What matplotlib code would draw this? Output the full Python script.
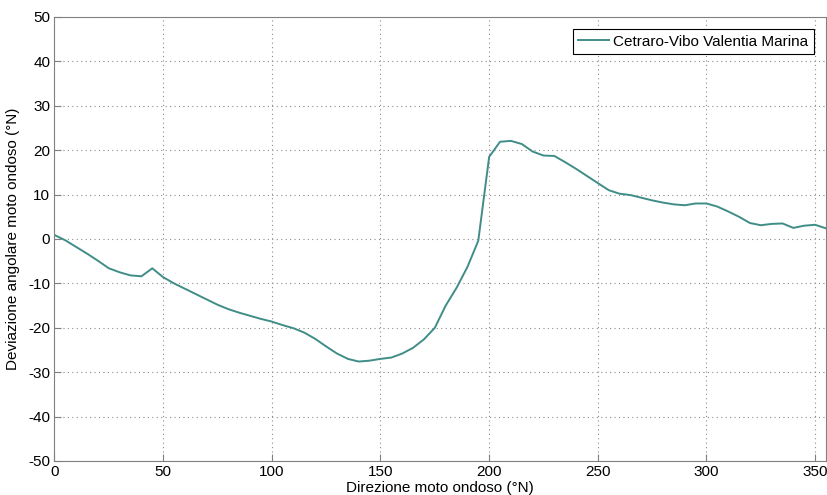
import matplotlib
matplotlib.use('Agg')
import matplotlib.pyplot as plt

plt.rcParams['font.family'] = ['Liberation Sans', 'DejaVu Sans']
plt.rcParams['axes.unicode_minus'] = False

# direzione del moto ondoso (gradi N) e deviazione angolare
direzione = [0, 5, 10, 15, 20, 25, 30, 35, 40, 45, 50, 55, 60, 65, 70, 75, 80, 85,
             90, 95, 100, 105, 110, 115, 120, 125, 130, 135, 140, 145, 150, 155,
             160, 165, 170, 175, 180, 185, 190, 195, 200, 205, 210, 215, 220, 225,
             230, 235, 240, 245, 250, 255, 260, 265, 270, 275, 280, 285, 290, 295,
             300, 305, 310, 315, 320, 325, 330, 335, 340, 345, 350, 355]
deviazione = [0.9, -0.3, -1.8, -3.3, -4.9, -6.6, -7.5, -8.2, -8.4, -6.6, -8.6, -10.0,
              -11.2, -12.4, -13.6, -14.8, -15.8, -16.6, -17.3, -18.0, -18.6, -19.4,
              -20.1, -21.1, -22.5, -24.2, -25.8, -27.0, -27.6, -27.4, -27.0, -26.7,
              -25.8, -24.5, -22.6, -20.0, -15.0, -11.0, -6.3, -0.4, 18.5, 21.9, 22.1,
              21.4, 19.7, 18.8, 18.7, 17.3, 15.8, 14.2, 12.6, 11.0, 10.2, 9.9, 9.3,
              8.7, 8.2, 7.8, 7.6, 8.0, 8.0, 7.3, 6.2, 5.0, 3.6, 3.1, 3.4, 3.5, 2.5,
              3.0, 3.2, 2.4]

fig = plt.figure(figsize=(8.28, 4.95), dpi=100)
ax = fig.add_axes([54.5 / 828, 34 / 495, (826 - 54.5) / 828, 444 / 495])

ax.plot(direzione, deviazione, color='#408d88', lw=1.4,
        label='Cetraro-Vibo Valentia Marina')

ax.set_xlim(0, 355)
ax.set_ylim(-50, 50)
ax.set_xticks(range(0, 351, 50))
ax.set_yticks(range(-50, 51, 10))
ax.tick_params(direction='in', length=5, colors='#808080', labelcolor='black',
               labelsize=11, pad=3)
for s in ax.spines.values():
    s.set_color('#808080')
ax.grid(True, linestyle=(0, (1, 3)), color='#8c8c8c', lw=0.8)

ax.set_xlabel('Direzione moto ondoso (°N)', fontsize=11, labelpad=1)
ax.set_ylabel('Deviazione angolare moto ondoso (°N)', fontsize=11, labelpad=6)

leg = ax.legend(loc='upper right', fontsize=11, fancybox=False, framealpha=1,
                edgecolor='black', borderpad=0.35, handlelength=2.0,
                handletextpad=0.3, borderaxespad=0.8)
leg.get_frame().set_linewidth(0.8)

fig.savefig('out.png', dpi=100)
